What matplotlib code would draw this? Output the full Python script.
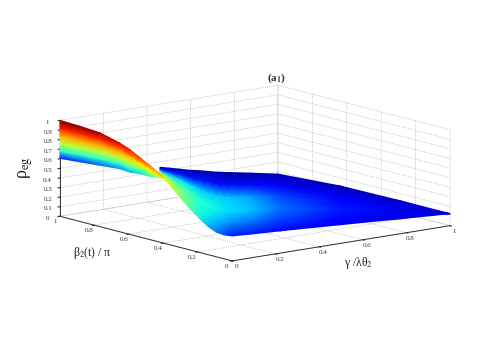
import numpy as np
import matplotlib
matplotlib.use('Agg')
import matplotlib.pyplot as plt
from mpl_toolkits.mplot3d import proj3d

plt.rcParams['font.family'] = ['Liberation Serif', 'DejaVu Sans']
plt.rcParams['mathtext.fontset'] = 'stix'

# band position between the near edge (0) and the far edge (1)
band = [0.0, 0.2, 0.4, 0.6, 0.8, 1.0]

# left wedge: stations along the edges
wedge_beta_near = [1.0, 0.884, 0.767, 0.651, 0.593, 0.535, 0.477, 0.401]
wedge_gamma_far = [0.0, 0.092, 0.183, 0.275, 0.321, 0.367, 0.413, 0.472]
wedge_z = [
    [1.000, 0.920, 0.840, 0.760, 0.680, 0.604],
    [0.992, 0.900, 0.809, 0.717, 0.626, 0.534],
    [0.978, 0.875, 0.773, 0.670, 0.568, 0.465],
    [0.924, 0.818, 0.712, 0.607, 0.501, 0.395],
    [0.883, 0.775, 0.667, 0.558, 0.450, 0.342],
    [0.827, 0.724, 0.620, 0.517, 0.413, 0.310],
    [0.771, 0.670, 0.569, 0.468, 0.367, 0.266],
    [0.688, 0.595, 0.502, 0.410, 0.317, 0.224],
]
wedge_c = [
    [1.00, 0.88, 0.73, 0.58, 0.40, 0.15],
    [0.99, 0.87, 0.73, 0.58, 0.40, 0.18],
    [0.97, 0.86, 0.72, 0.57, 0.41, 0.22],
    [0.92, 0.82, 0.70, 0.56, 0.42, 0.27],
    [0.89, 0.79, 0.68, 0.555, 0.43, 0.30],
    [0.84, 0.76, 0.66, 0.55, 0.44, 0.33],
    [0.78, 0.72, 0.65, 0.58, 0.50, 0.42],
    [0.70, 0.68, 0.65, 0.62, 0.60, 0.56],
]

# main body: near edge runs gamma=0 then beta=0, far edge beta=1 then gamma=1
body_beta_near = [0.419, 0.360, 0.302, 0.244, 0.186, 0.14, 0.093, 0.047, 0.0, 0.0, 0.0, 0.0, 0.0, 0.0]
body_gamma_near = [0.0, 0.0, 0.0, 0.0, 0.0, 0.0, 0.0, 0.0, 0.0, 0.083, 0.22, 0.495, 0.771, 1.0]
body_beta_far = [1.0, 1.0, 1.0, 1.0, 1.0, 1.0, 1.0, 1.0, 1.0, 1.0, 1.0, 0.64, 0.29, 0.0]
body_gamma_far = [0.459, 0.505, 0.55, 0.596, 0.642, 0.679, 0.715, 0.752, 0.789, 0.872, 1.0, 1.0, 1.0, 1.0]
body_z = [
    [0.700, 0.629, 0.557, 0.486, 0.414, 0.343],
    [0.621, 0.560, 0.499, 0.438, 0.377, 0.316],
    [0.525, 0.478, 0.431, 0.383, 0.336, 0.289],
    [0.429, 0.395, 0.362, 0.328, 0.295, 0.261],
    [0.350, 0.328, 0.306, 0.284, 0.262, 0.240],
    [0.294, 0.279, 0.264, 0.248, 0.233, 0.218],
    [0.258, 0.246, 0.234, 0.222, 0.210, 0.198],
    [0.249, 0.235, 0.222, 0.208, 0.195, 0.181],
    [0.260, 0.241, 0.222, 0.204, 0.185, 0.166],
    [0.248, 0.224, 0.201, 0.177, 0.154, 0.130],
    [0.232, 0.200, 0.168, 0.137, 0.105, 0.073],
    [0.195, 0.179, 0.163, 0.149, 0.133, 0.117],
    [0.156, 0.150, 0.144, 0.137, 0.131, 0.125],
    [0.125, 0.125, 0.125, 0.125, 0.125, 0.125],
]
body_c = [
    [0.66, 0.60, 0.45, 0.25, 0.10, 0.04],
    [0.60, 0.56, 0.46, 0.32, 0.14, 0.04],
    [0.52, 0.50, 0.46, 0.36, 0.16, 0.04],
    [0.44, 0.45, 0.43, 0.35, 0.15, 0.04],
    [0.36, 0.39, 0.39, 0.33, 0.15, 0.04],
    [0.30, 0.36, 0.38, 0.33, 0.15, 0.04],
    [0.24, 0.32, 0.37, 0.33, 0.14, 0.04],
    [0.19, 0.29, 0.355, 0.325, 0.14, 0.035],
    [0.15, 0.26, 0.34, 0.32, 0.14, 0.03],
    [0.15, 0.24, 0.32, 0.29, 0.14, 0.04],
    [0.13, 0.19, 0.24, 0.20, 0.11, 0.05],
    [0.10, 0.13, 0.15, 0.13, 0.09, 0.05],
    [0.09, 0.10, 0.10, 0.09, 0.08, 0.06],
    [0.08, 0.08, 0.08, 0.08, 0.08, 0.08],
]

xy_ticks = [0, 0.2, 0.4, 0.6, 0.8, 1]
z_ticks = [0, 0.1, 0.2, 0.3, 0.4, 0.5, 0.6, 0.7, 0.8, 0.9, 1]
z_labels = ['0', '0.1', '0.2', '0.3', '0.4', '0.5', '0.6', '0.7', '0.8', '0.9', '1']
xy_labels = ['0', '0.2', '0.4', '0.6', '0.8', '1']

W, H = 491.0, 354.0
fig = plt.figure(figsize=(4.91, 3.54), dpi=100)
ax = fig.add_axes([80.4 / W, 6.4 / H, 340 / W, 340 / H], projection='3d', proj_type='ortho')
ax.view_init(elev=11.8, azim=-128.3)
ax.set_box_aspect((277.7, 277.7, 98), zoom=1.156)
ax.set_xlim(0, 1, view_margin=0)
ax.set_ylim(0, 1, view_margin=0)
ax.set_zlim(0, 1, view_margin=0)
ax.set_xticks(xy_ticks, xy_labels)
ax.set_yticks(xy_ticks, xy_labels)
ax.set_zticks(z_ticks, z_labels)
ax.tick_params(axis='both', labelsize=5, pad=-5, colors='#303030')
ax.tick_params(axis='z', labelsize=5, pad=-4, colors='#303030')
ax.patch.set_alpha(0)

for a in [ax.xaxis, ax.yaxis, ax.zaxis]:
    a.set_pane_color((1, 1, 1, 0))
    a.pane.set_edgecolor('#b0b0b0')
    a.pane.set_linestyle(':')
    a.line.set_color('#303030')
    a.line.set_linewidth(0.7)
    a._axinfo['grid'].update(color='#a0a0a0', linestyle=':', linewidth=0.5)
    a._axinfo['tick'].update(inward_factor=0.1, outward_factor=0.0)


def mesh(beta_near, gamma_near, beta_far, gamma_far, z, c, over):
    # project the table through the 3d axes, draw far bands first
    f = np.array(band)[::-1]
    bn, gn = np.array(beta_near)[:, None], np.array(gamma_near)[:, None]
    bf, gf = np.array(beta_far)[:, None], np.array(gamma_far)[:, None]
    b = bn + (bf - bn) * f
    g = gn + (gf - gn) * f
    zz = np.array(z)[:, ::-1]
    cc = np.array(c)[:, ::-1]
    xs, ys, _ = proj3d.proj_transform(g.ravel(), b.ravel(), zz.ravel(), ax.get_proj())
    px = ax.transData.transform(np.column_stack([xs, ys]))
    px = over.transData.inverted().transform(px)
    X = px[:, 0].reshape(zz.shape)
    Y = px[:, 1].reshape(zz.shape)
    over.pcolormesh(X.T, Y.T, cc.T, shading='gouraud', cmap='jet', vmin=0, vmax=1)


fig.canvas.draw()
over = fig.add_axes([0, 0, 1, 1])
over.set_xlim(0, W)
over.set_ylim(H, 0)
over.axis('off')
n_wedge = len(wedge_beta_near)
mesh(body_beta_near, body_gamma_near, body_beta_far, body_gamma_far, body_z, body_c, over)
mesh(wedge_beta_near, [0.0] * n_wedge, [1.0] * n_wedge, wedge_gamma_far, wedge_z, wedge_c, over)

fig.text(277 / W, 1 - 78 / H, r'(a$_{\mathbf{1}}$)', fontsize=8, fontweight='bold',
         ha='center', va='center', color='#303030')
fig.text(92 / W, 1 - 253 / H, r'β$_{2}$(t) / π', fontsize=8.5, ha='center', va='center', color='#202020')
fig.text(358 / W, 1 - 263 / H, r'γ /λθ$_{2}$', fontsize=8.5, ha='center', va='center', color='#202020')
fig.text(26 / W, 1 - 168 / H, r'ρ$_{\mathrm{eg}}$', fontsize=13, rotation=90, ha='center', va='center', color='#202020')

fig.savefig('out.png', dpi=100)
